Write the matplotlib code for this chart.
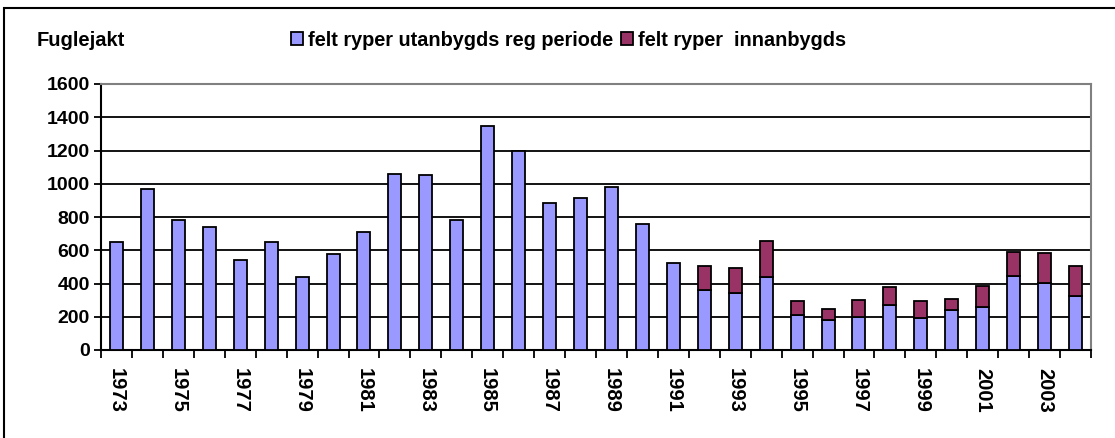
import matplotlib
matplotlib.use("Agg")
import matplotlib.pyplot as plt
from matplotlib.patches import Rectangle
import numpy as np

plt.rcParams['font.family'] = ['Liberation Sans', 'DejaVu Sans']
plt.rcParams['font.weight'] = 'bold'

# Données
years = list(range(1973, 2005))
utanbygds = [650, 970, 780, 740, 540, 650, 440, 575, 710, 1060, 1050,
             780, 1345, 1195, 885, 915, 980, 755, 525, 360, 342, 440,
             213, 179, 199, 271, 195, 241, 257, 444, 404, 326]
innanbygds = [0, 0, 0, 0, 0, 0, 0, 0, 0, 0, 0,
              0, 0, 0, 0, 0, 0, 0, 0, 143, 150, 213,
              80, 66, 103, 107, 102, 64, 127, 145, 181, 178]

fig = plt.figure(figsize=(11.15, 4.38), dpi=100)
ax = fig.add_axes([101/1115, 88/438, 990/1115, 266/438])

x = np.arange(len(years))
ax.bar(x, utanbygds, width=0.42, color='#9999FF', edgecolor='black', linewidth=1.3,
       label='felt ryper utanbygds reg periode', zorder=3)
inn = np.array(innanbygds)
ax.bar(x[inn > 0], inn[inn > 0], width=0.42, bottom=np.array(utanbygds)[inn > 0],
       color='#993366', edgecolor='black', linewidth=1.3,
       label='felt ryper  innanbygds', zorder=3)

ax.set_xlim(-0.5, len(years) - 0.5)
ax.set_ylim(0, 1600)
ax.set_yticks(range(0, 1601, 200))
ax.yaxis.grid(True, color='black', linewidth=1.3, zorder=0)
ax.tick_params(axis='y', labelsize=14, length=5, width=1.3, pad=3)

ax.set_xticks(x[::2])
ax.set_xticklabels([str(y) for y in years[::2]], rotation=270, fontsize=14.5)
ax.tick_params(axis='x', length=0, pad=13)
ax.set_xticks(np.arange(-0.5, len(years)), minor=True)
ax.tick_params(axis='x', which='minor', length=6, width=1.3, direction='out')

for s in ['left', 'bottom']:
    ax.spines[s].set_color('black')
    ax.spines[s].set_linewidth(1.5)
for s in ['top', 'right']:
    ax.spines[s].set_color('#808080')
    ax.spines[s].set_linewidth(1.5)

fig.text(37/1115, 1 - 40/438, 'Fuglejakt', fontsize=14.5, va='center', ha='left')
fig.legend(loc='center left', bbox_to_anchor=(283/1115, 1 - 40/438), ncol=2,
           frameon=False, fontsize=14.3, handlelength=0.6, handleheight=0.6,
           handletextpad=0.25, columnspacing=0.4, borderaxespad=0)

fig.patches.append(Rectangle((4/1115, -0.1), 1.2, 1 - 8/438 + 0.1,
                             transform=fig.transFigure, fill=False,
                             edgecolor='black', linewidth=1.5))

fig.savefig('out.png', dpi=100)
